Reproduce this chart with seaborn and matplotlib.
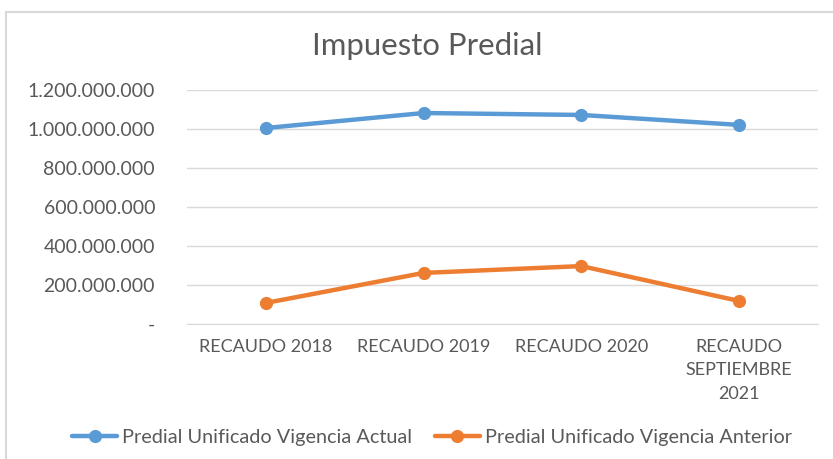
import matplotlib
matplotlib.use("Agg")
import matplotlib.pyplot as plt
import matplotlib.ticker as mticker
import seaborn as sns
import pandas as pd

categories = ["RECAUDO 2018", "RECAUDO 2019", "RECAUDO 2020", "RECAUDO\nSEPTIEMBRE\n2021"]
actual = [1005000000, 1082000000, 1072000000, 1021000000]
anterior = [108000000, 262000000, 297000000, 118000000]
series_names = ["Predial Unificado Vigencia Actual", "Predial Unificado Vigencia Anterior"]

df = pd.DataFrame({
    "categoria": categories * 2,
    "valor": actual + anterior,
    "serie": [series_names[0]] * 4 + [series_names[1]] * 4,
})

sns.set_style("white")
plt.rcParams["font.family"] = ["Lato", "DejaVu Sans"]

fig = plt.figure(figsize=(8.33, 4.59), dpi=100)
ax = fig.add_axes([187 / 833, 1 - 324 / 459, (818 - 187) / 833, (324 - 90) / 459])

sns.lineplot(data=df, x="categoria", y="valor", hue="serie", sort=False,
             palette=["#5B9BD5", "#ED7D31"], marker="o", markersize=9.5,
             markeredgewidth=0, linewidth=3.2, ax=ax)

ax.set_xlim(-0.5, 3.5)
ax.set_ylim(0, 1200000000)
ax.yaxis.set_major_locator(mticker.MultipleLocator(200000000))

def fmt(v, pos):
    if v == 0:
        return "-"
    return f"{int(v):,}".replace(",", ".")

ax.yaxis.set_major_formatter(mticker.FuncFormatter(fmt))
ax.grid(axis="y", color="#D9D9D9", linewidth=1)
ax.set_axisbelow(True)
for s in ["top", "right", "left"]:
    ax.spines[s].set_visible(False)
ax.spines["bottom"].set_color("#D9D9D9")
ax.tick_params(axis="both", length=0, colors="#595959")
ax.tick_params(axis="y", pad=23, labelsize=14)
ax.tick_params(axis="x", pad=11, labelsize=13)
for lbl in ax.get_xticklabels():
    lbl.set_linespacing(1.55)
ax.set_xlabel("")
ax.set_ylabel("")

fig.text(427 / 833, 1 - 46 / 459, "Impuesto Predial", ha="center", va="center",
         fontsize=22.4, color="#595959")

handles, labels = ax.get_legend_handles_labels()
ax.legend_.remove()
fig.legend(handles, labels, loc="center", bbox_to_anchor=(432 / 833, 1 - 437 / 459),
           ncol=2, frameon=False, fontsize=14.3, labelcolor="#595959",
           handlelength=2.26, columnspacing=1.15, handletextpad=0.25)

border = plt.Rectangle((6 / 833, -0.1), 1, 1 - 12 / 459 + 0.1, transform=fig.transFigure,
                       fill=False, edgecolor="#D9D9D9", linewidth=1.5)
fig.patches.append(border)

fig.savefig("out.png", dpi=100, facecolor="white")
